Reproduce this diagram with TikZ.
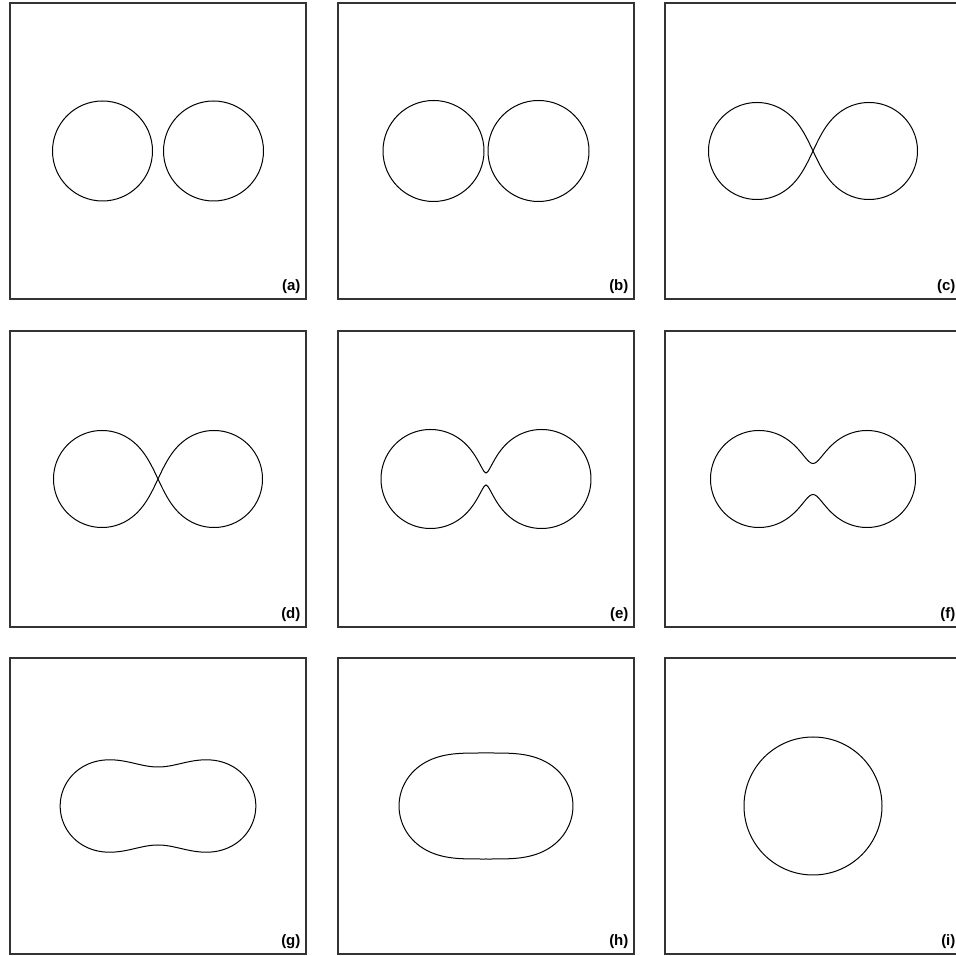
\documentclass[tikz,border=0pt]{standalone}
\usepackage{fontspec}
\setsansfont{Liberation Sans}
\usetikzlibrary{positioning}

% half height of two merging blobs at abscissa x: blobh(x, neck, s2, d)
\pgfmathdeclarefunction{blobh}{4}{%
  \begingroup
  \pgfmathsetmacro\bz{abs(2*(#4)*(#1)/(#3))}%
  \pgfmathsetmacro\blc{ifthenelse(\bz<6, ln(cosh(min(\bz,6))), \bz-0.693147)}%
  \pgfmathparse{sqrt(max(0,(#2)*(#2)-(#1)*(#1)+(#3)*\blc))}%
  \pgfmathsmuggle\pgfmathresult
  \endgroup}

\begin{document}
\begin{tikzpicture}[
  x=1pt, y=1pt,
  panel/.style={draw=black!80, line width=1.2pt, minimum width=296pt,
                minimum height=296pt, inner sep=0pt},
  tag/.style={font=\sffamily\bfseries\fontsize{15}{15}\selectfont, inner sep=0pt},
  curve/.style={black, line width=1pt, samples=181},
]
\useasboundingbox (0,0) rectangle (956,956);

% Frames
\node[panel] (pa) at (158,805) {};
\node[panel] (pb) at (486,805) {};
\node[panel] (pc) at (813,805) {};
\node[panel] (pd) at (158,477) {};
\node[panel] (pe) at (486,477) {};
\node[panel] (pf) at (813,477) {};
\node[panel] (pg) at (158,150) {};
\node[panel] (ph) at (486,150) {};
\node[panel] (pi) at (813,150) {};

% Tags in the lower right corners
\node[tag, above left=6pt and 6pt of pa.south east] (ta) {(a)};
\node[tag, above left=6pt and 6pt of pb.south east] (tb) {(b)};
\node[tag, above left=6pt and 6pt of pc.south east] (tc) {(c)};
\node[tag, above left=6pt and 6pt of pd.south east] (td) {(d)};
\node[tag, above left=6pt and 6pt of pe.south east] (te) {(e)};
\node[tag, above left=6pt and 6pt of pf.south east] (tf) {(f)};
\node[tag, above left=6pt and 6pt of pg.south east] (tg) {(g)};
\node[tag, above left=6pt and 6pt of ph.south east] (th) {(h)};
\node[tag, above left=6pt and 6pt of pi.south east] (ti) {(i)};

% (a), (b): two separate blobs
\begin{scope}[shift={(pa.center)}]
  \draw[curve] (-55.5,0) circle[radius=50] (55.5,0) circle[radius=50];
\end{scope}
\begin{scope}[shift={(pb.center)}]
  \draw[curve] (-52.5,0) circle[radius=50.5] (52.5,0) circle[radius=50.5];
\end{scope}

% (c), (d): the blobs just touch
\begin{scope}[shift={(pc.center)}]
  \draw[curve] plot[domain=-90:90] ({104.45*sin(\x)},{blobh(104.45*sin(\x),0,1131,56)})
    -- plot[domain=90:-90] ({104.45*sin(\x)},{-blobh(104.45*sin(\x),0,1131,56)}) -- cycle;
\end{scope}
\begin{scope}[shift={(pd.center)}]
  \draw[curve] plot[domain=-90:90] ({104.45*sin(\x)},{blobh(104.45*sin(\x),0,1131,56)})
    -- plot[domain=90:-90] ({104.45*sin(\x)},{-blobh(104.45*sin(\x),0,1131,56)}) -- cycle;
\end{scope}

% (e)--(h): the blobs merge
\begin{scope}[shift={(pe.center)}]
  \draw[curve] plot[domain=-90:90] ({104.95*sin(\x)},{blobh(104.95*sin(\x),6,961,55.5)})
    -- plot[domain=90:-90] ({104.95*sin(\x)},{-blobh(104.95*sin(\x),6,961,55.5)}) -- cycle;
\end{scope}
\begin{scope}[shift={(pf.center)}]
  \draw[curve] plot[domain=-90:90] ({102.45*sin(\x)},{blobh(102.45*sin(\x),15.5,1160,54)})
    -- plot[domain=90:-90] ({102.45*sin(\x)},{-blobh(102.45*sin(\x),15.5,1160,54)}) -- cycle;
\end{scope}
\begin{scope}[shift={(pg.center)}]
  \draw[curve] plot[domain=-90:90] ({97.78*sin(\x)},{blobh(97.78*sin(\x),39,3360,53)})
    -- plot[domain=90:-90] ({97.78*sin(\x)},{-blobh(97.78*sin(\x),39,3360,53)}) -- cycle;
\end{scope}
\begin{scope}[shift={(ph.center)}]
  \draw[curve] plot[domain=-90:90] ({86.9*sin(\x)},{blobh(86.9*sin(\x),53,3136,39.6)})
    -- plot[domain=90:-90] ({86.9*sin(\x)},{-blobh(86.9*sin(\x),53,3136,39.6)}) -- cycle;
\end{scope}

% (i): one blob
\begin{scope}[shift={(pi.center)}]
  \draw[curve] (0,0) circle[radius=69];
\end{scope}

\end{tikzpicture}
\end{document}
